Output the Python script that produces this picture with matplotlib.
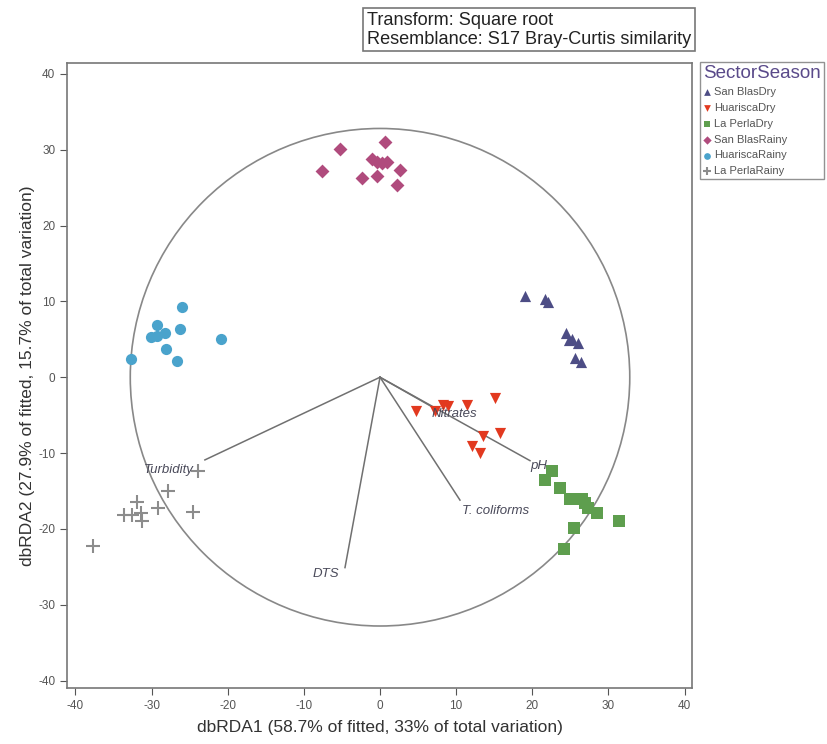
"""dbRDA ordination of sectors and seasons, with predictor vectors."""

import matplotlib
matplotlib.use('Agg')
import matplotlib.pyplot as plt
from matplotlib.patches import Circle

plt.rcParams['font.family'] = ['Liberation Sans', 'DejaVu Sans']
plt.rcParams['axes.unicode_minus'] = False

GROUPS = ['San BlasDry', 'HuariscaDry', 'La PerlaDry',
          'San BlasRainy', 'HuariscaRainy', 'La PerlaRainy']

san_blas_dry_x = [19.1, 21.7, 22.1, 24.4, 25.2, 24.8, 26.0, 25.6, 26.4]
san_blas_dry_y = [10.7, 10.3, 9.9, 5.8, 5.1, 4.9, 4.5, 2.6, 2.0]

huarisca_dry_x = [4.7, 7.2, 8.3, 8.9, 11.4, 15.1, 13.5, 15.8, 12.1, 13.1]
huarisca_dry_y = [-4.5, -4.4, -3.6, -3.8, -3.6, -2.8, -7.8, -7.4, -9.1, -10.0]

la_perla_dry_x = [22.6, 21.7, 23.7, 25.0, 26.5, 26.9, 27.3, 28.5, 31.4, 25.5, 24.2]
la_perla_dry_y = [-12.3, -13.6, -14.6, -16.1, -16.0, -16.6, -17.3, -17.9,
                  -18.9, -19.9, -22.6]

san_blas_rainy_x = [0.7, -5.3, -7.6, -1.1, -0.4, 0.3, 0.9, 2.6, -2.4, -0.4, 2.2]
san_blas_rainy_y = [31.0, 30.1, 27.2, 28.8, 28.4, 28.2, 28.4, 27.3, 26.3,
                    26.5, 25.3]

huarisca_rainy_x = [-26.0, -29.3, -26.3, -30.1, -29.3, -28.3, -20.9, -28.1,
                    -26.7, -32.7]
huarisca_rainy_y = [9.2, 6.9, 6.3, 5.3, 5.4, 5.8, 5.1, 3.7, 2.2, 2.4]

la_perla_rainy_x = [-23.9, -27.9, -31.9, -29.2, -33.6, -32.6, -31.4, -31.3,
                    -24.6, -37.7]
la_perla_rainy_y = [-12.4, -15.0, -16.5, -17.2, -18.2, -18.2, -17.9, -19.0,
                    -17.8, -22.2]

vector_names = ['Turbidity', 'DTS', 'T. coliforms', 'pH', 'Nitrates']
vector_x = [-23.0, -4.6, 10.5, 19.7, 7.0]
vector_y = [-10.9, -25.1, -16.2, -11.0, -4.0]

circle_radius = 32.8

fig = plt.figure(figsize=(8.28, 7.44), dpi=100)
ax = fig.add_axes([0.081, 0.075, 0.755, 0.840])

styles = [
    ('^', '#4d4d85', san_blas_dry_x, san_blas_dry_y),
    ('v', '#e2391f', huarisca_dry_x, huarisca_dry_y),
    ('s', '#5e9e4e', la_perla_dry_x, la_perla_dry_y),
    ('D', '#b04b7d', san_blas_rainy_x, san_blas_rainy_y),
    ('o', '#4aa3cc', huarisca_rainy_x, huarisca_rainy_y),
    ('+', '#8c8c8c', la_perla_rainy_x, la_perla_rainy_y),
]

ax.add_patch(Circle((0, 0), circle_radius, fill=False, ec='#888888', lw=1.2,
                    zorder=1))

for (vx, vy) in zip(vector_x, vector_y):
    ax.plot([0, vx], [0, vy], color='#707070', lw=1.1, zorder=2)

handles = []
for name, (m, c, xs, ys) in zip(GROUPS, styles):
    if m == '+':
        h = ax.scatter(xs, ys, marker=m, s=100, c=c, linewidths=1.5,
                       zorder=3, label=name)
    else:
        sz = 50 if m == 'D' else 65
        h = ax.scatter(xs, ys, marker=m, s=sz, c=c, linewidths=0,
                       zorder=3, label=name)
    handles.append(h)

label_pos = {
    'Turbidity': (-31.0, -12.2, 'left'),
    'DTS': (-8.8, -26.0, 'left'),
    'T. coliforms': (10.8, -17.7, 'left'),
    'pH': (19.8, -11.7, 'left'),
    'Nitrates': (6.8, -4.9, 'left'),
}
for name in vector_names:
    lx, ly, ha = label_pos[name]
    ax.text(lx, ly, name, style='italic', fontsize=9.5, color='#4a4a5a',
            ha=ha, va='center', zorder=4)

ax.set_xlim(-41.1, 41.0)
ax.set_ylim(-41.0, 41.4)
ax.set_xticks(range(-40, 41, 10))
ax.set_yticks(range(-40, 41, 10))
ax.tick_params(colors='#555555', labelsize=8.5, length=5, labelcolor='#555555')
for sp in ax.spines.values():
    sp.set_color('#777777')
    sp.set_linewidth(1.2)

ax.set_xlabel('dbRDA1 (58.7% of fitted, 33% of total variation)',
              fontsize=12.5, color='#333333', labelpad=6)
ax.set_ylabel('dbRDA2 (27.9% of fitted, 15.7% of total variation)',
              fontsize=12.5, color='#333333', labelpad=2)

leg = fig.legend(handles=handles, loc='upper left',
                 bbox_to_anchor=(0.846, 0.917), fontsize=8,
                 title='SectorSeason', frameon=True, fancybox=False,
                 handletextpad=0.35, handlelength=0.6, borderpad=0.25,
                 labelspacing=0.52, markerscale=0.6, borderaxespad=0)
leg._legend_box.align = 'left'
leg.get_title().set_color('#5a4a8a')
leg.get_title().set_fontsize(13.5)
leg.get_frame().set_edgecolor('#777777')
for t in leg.get_texts():
    t.set_color('#555555')

fig.text(0.443, 0.960, 'Transform: Square root\n'
         'Resemblance: S17 Bray-Curtis similarity',
         fontsize=13.1, color='#222222', ha='left', va='center',
         linespacing=1.15,
         bbox=dict(boxstyle='square,pad=0.2', fc='white', ec='#777777',
                   lw=1.2))

fig.savefig('out.png', dpi=100)
